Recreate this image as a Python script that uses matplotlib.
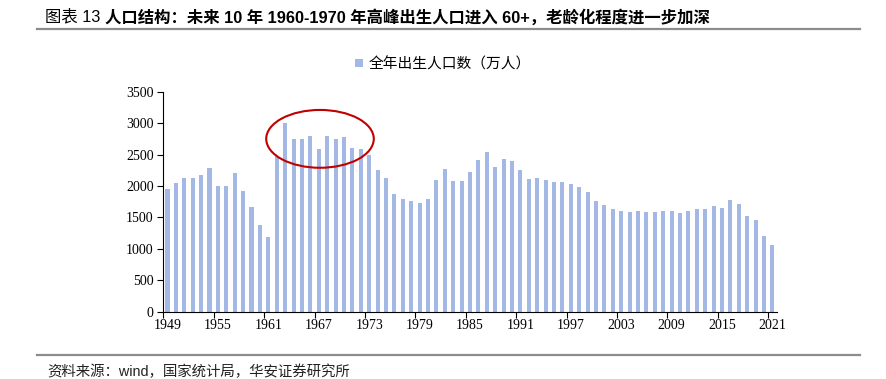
import matplotlib
matplotlib.use("Agg")
import matplotlib.pyplot as plt
from matplotlib.patches import Ellipse
from matplotlib.lines import Line2D
import numpy as np

plt.rcParams['font.family'] = ['Noto Sans CJK SC', 'DejaVu Sans']

years = list(range(1949, 2022))
births = [1950, 2040, 2125, 2120, 2170, 2280, 2000, 2000, 2200, 1925,
          1660, 1380, 1185, 2470, 3000, 2755, 2740, 2795, 2590, 2795,
          2745, 2775, 2610, 2595, 2490, 2255, 2120, 1865, 1795, 1755,
          1730, 1795, 2095, 2265, 2085, 2080, 2225, 2410, 2545, 2300,
          2425, 2390, 2255, 2110, 2120, 2100, 2065, 2065, 2030, 1985,
          1905, 1765, 1695, 1640, 1595, 1590, 1610, 1580, 1590, 1605,
          1610, 1570, 1600, 1635, 1640, 1680, 1655, 1780, 1715, 1520,
          1465, 1200, 1060]
series_name = "全年出生人口数（万人）"
title_head = "图表 13 "
title_body = "人口结构：未来 10 年 1960-1970 年高峰出生人口进入 60+，老龄化程度进一步加深"
source_text = "资料来源：wind，国家统计局，华安证券研究所"

bar_color = "#a3b8e4"
fig = plt.figure(figsize=(8.86, 3.79), dpi=100)
ax = fig.add_axes([0.1843, 0.1776, 0.8766 - 0.1843, 0.758 - 0.1776])

ax.bar(years, births, width=0.48, color=bar_color, label=series_name)
ax.set_xlim(years[0] - 0.5, years[-1] + 0.5)
ax.set_ylim(0, 3500)
ax.set_yticks(np.arange(0, 3501, 500))

label_years = years[::6]
ax.set_xticks([y - 0.5 for y in label_years])
ax.set_xticklabels([])
ax.set_xticks(label_years, minor=True)
ax.set_xticklabels([str(y) for y in label_years], minor=True)
ax.tick_params(axis='x', which='major', direction='out', length=4, width=0.8)
ax.tick_params(axis='x', which='minor', length=0, pad=5)
ax.tick_params(axis='y', direction='out', length=4, width=0.8, pad=3)
for lab in ax.get_xticklabels(minor=True) + ax.get_yticklabels():
    lab.set_fontfamily('Liberation Serif')
    lab.set_fontsize(10)

for side in ['top', 'right']:
    ax.spines[side].set_visible(False)
ax.spines['left'].set_linewidth(0.8)
ax.spines['bottom'].set_linewidth(0.8)

# highlight the 1960s baby boom
ax.add_patch(Ellipse((1967.15, 2750), 12.8, 920, fill=False,
                     edgecolor='#c00000', linewidth=1.5, clip_on=False))

fig.legend(loc='center', bbox_to_anchor=(0.5, 0.831), frameon=False,
           handlelength=0.55, handleheight=0.55, handletextpad=0.4,
           prop={'size': 10.6})

# title
head = fig.text(0.0508, 0.955, title_head, fontsize=11.8, va='center',
                family=['Liberation Sans', 'Noto Sans CJK SC'])
fig.canvas.draw()
bb = head.get_window_extent(fig.canvas.get_renderer())
x_body = bb.x1 / fig.bbox.width
fig.text(x_body, 0.955, title_body, fontsize=11.8, va='center', fontweight='bold',
         family=['Liberation Sans', 'Noto Sans CJK SC'])

fig.add_artist(Line2D([0.0418, 0.9707], [0.9235, 0.9235], color='#8c8c8c', linewidth=1.6))
fig.add_artist(Line2D([0.0418, 0.9707], [0.0633, 0.0633], color='#8c8c8c', linewidth=1.6))
fig.text(0.053, 0.0198, source_text, fontsize=10.4, va='center',
         family=['Liberation Sans', 'Noto Sans CJK SC'], color='#222222')

fig.savefig("out.png", dpi=100)
